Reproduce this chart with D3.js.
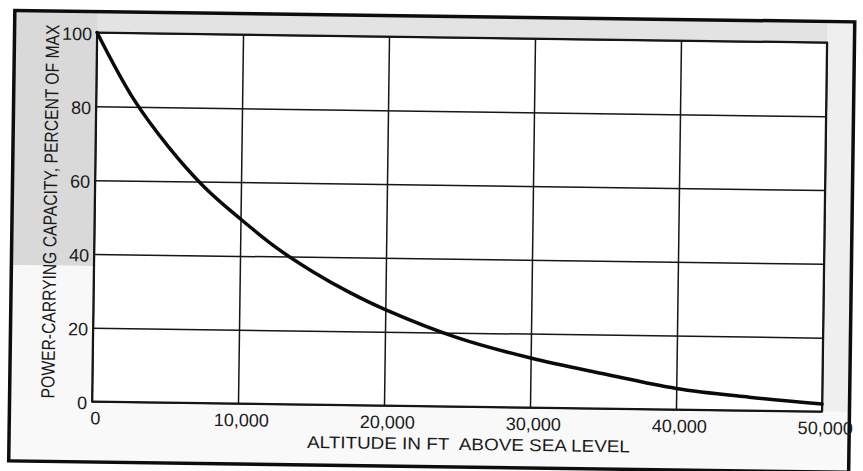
<!DOCTYPE html>
<html>
<head>
<meta charset="utf-8">
<script src="https://cdn.jsdelivr.net/npm/d3@7"></script>
<style>
  html, body { margin: 0; padding: 0; background: #ffffff; }
  svg { display: block; }
</style>
</head>
<body>
<svg id="chart" width="863" height="471"></svg>
<script>
// ---- data ----
const altitudes = [0, 2500, 5000, 7500, 10000, 12500, 15000, 17500, 20000, 25000, 30000, 35000, 40000, 45000, 50000];
const capacity  = [100, 82.5, 69.3, 58.5, 50, 42.3, 36.0, 30.6, 26.0, 18.6, 13.4, 9.4, 5.7, 3.6, 2];
const xTickValues = [0, 10000, 20000, 30000, 40000, 50000];
const yTickValues = [0, 20, 40, 60, 80, 100];
const xTitle = "ALTITUDE IN FT\u00A0 ABOVE SEA LEVEL";
const yTitle = "POWER-CARRYING CAPACITY, PERCENT OF MAX";

// ---- layout ----
const W = 863, H = 471;
const plot = { left: 94.5, right: 824.5, top: 37.5, bottom: 406.5 };
const tilt = 0.78, cx = 459.5, cy = 222;
const ink = "#161616";

const svg = d3.select("#chart");
svg.append("rect").attr("width", W).attr("height", H).attr("fill", "#ffffff");

const g = svg.append("g").attr("transform", `rotate(${tilt},${cx},${cy})`);

// frame background patches (scan halftone areas)
const frame = { left: 12, right: 852, top: 16.5, bottom: 467 };
g.append("rect").attr("x", frame.left).attr("y", frame.top)
  .attr("width", frame.right - frame.left).attr("height", plot.top - frame.top)
  .attr("fill", "#e3e3e3");
g.append("rect").attr("x", plot.right).attr("y", frame.top)
  .attr("width", frame.right - plot.right).attr("height", frame.bottom - frame.top)
  .attr("fill", "#efefef");
g.append("rect").attr("x", frame.left).attr("y", plot.bottom)
  .attr("width", frame.right - frame.left).attr("height", frame.bottom - plot.bottom)
  .attr("fill", "#f9f9f9");
g.append("rect").attr("x", frame.left).attr("y", frame.top)
  .attr("width", plot.left - frame.left).attr("height", 271 - frame.top)
  .attr("fill", "#d9d9d9");
g.append("rect").attr("x", frame.left).attr("y", 271)
  .attr("width", plot.left - frame.left).attr("height", plot.bottom - 271)
  .attr("fill", "#f8f8f8");

// plot area
g.append("rect").attr("x", plot.left).attr("y", plot.top)
  .attr("width", plot.right - plot.left).attr("height", plot.bottom - plot.top)
  .attr("fill", "#ffffff");

// outer frame
g.append("rect").attr("x", frame.left).attr("y", frame.top)
  .attr("width", frame.right - frame.left).attr("height", frame.bottom - frame.top)
  .attr("fill", "none").attr("stroke", "#0d0d0d").attr("stroke-width", 3.5);

// scales
const x = d3.scaleLinear().domain([0, 50000]).range([plot.left, plot.right]);
const y = d3.scaleLinear().domain([0, 100]).range([plot.bottom, plot.top]);

// grid via axes
const xGrid = g.append("g").attr("transform", `translate(0,${plot.bottom})`)
  .call(d3.axisBottom(x).tickValues(xTickValues).tickSize(-(plot.bottom - plot.top)).tickFormat(""));
xGrid.select(".domain").remove();
xGrid.selectAll("line").attr("stroke", ink).attr("stroke-width", 1.5);

const yGrid = g.append("g").attr("transform", `translate(${plot.left},0)`)
  .call(d3.axisLeft(y).tickValues(yTickValues).tickSize(-(plot.right - plot.left)).tickFormat(""));
yGrid.select(".domain").remove();
yGrid.selectAll("line").attr("stroke", ink).attr("stroke-width", 1.5);

// plot border
g.append("rect").attr("x", plot.left).attr("y", plot.top)
  .attr("width", plot.right - plot.left).attr("height", plot.bottom - plot.top)
  .attr("fill", "none").attr("stroke", ink).attr("stroke-width", 2);

// tick labels via axes
const fmt = d3.format(",");
const xAxis = g.append("g").attr("transform", `translate(3,${plot.bottom})`)
  .call(d3.axisBottom(x).tickValues(xTickValues).tickSize(0).tickPadding(0).tickFormat(fmt));
xAxis.select(".domain").remove();
xAxis.selectAll("text")
  .attr("y", 16.5).attr("dy", "0.35em")
  .attr("font-family", "'Liberation Sans', Arial, sans-serif")
  .attr("font-size", 18).attr("fill", "#1a1a1a");

const yAxis = g.append("g").attr("transform", `translate(${plot.left},1.5)`)
  .call(d3.axisLeft(y).tickValues(yTickValues).tickSize(0).tickPadding(5).tickFormat(fmt));
yAxis.select(".domain").remove();
yAxis.selectAll("text")
  .attr("font-family", "'Liberation Sans', Arial, sans-serif")
  .attr("font-size", 18).attr("fill", "#1a1a1a");

// curve
const pts = altitudes.map((a, i) => [a, capacity[i]]);
const line = d3.line().x(d => x(d[0])).y(d => y(d[1])).curve(d3.curveCatmullRom.alpha(0.5));
g.append("path").datum(pts).attr("d", line)
  .attr("fill", "none").attr("stroke", "#0a0a0a").attr("stroke-width", 3.5)
  .attr("stroke-linejoin", "round").attr("stroke-linecap", "round");

// axis titles (scaled horizontally to the span seen in the reference)
function fittedText(parent, txt, size, family, tx, ty, angle, span) {
  const t = parent.append("text")
    .attr("text-anchor", "middle").attr("dy", "0.35em")
    .attr("font-family", family).attr("font-size", size).attr("fill", "#1a1a1a")
    .text(txt);
  const L = t.node().getComputedTextLength() || span;
  t.attr("transform", `translate(${tx},${ty}) rotate(${angle}) scale(${span / L},1)`);
  return t;
}
fittedText(g, xTitle, 17, "'Liberation Sans', Arial, sans-serif", 471.5, 444, 0, 323);
fittedText(g, yTitle, 19, "'Liberation Sans', Arial, sans-serif", 50, 217, -90, 374);
</script>
</body>
</html>
